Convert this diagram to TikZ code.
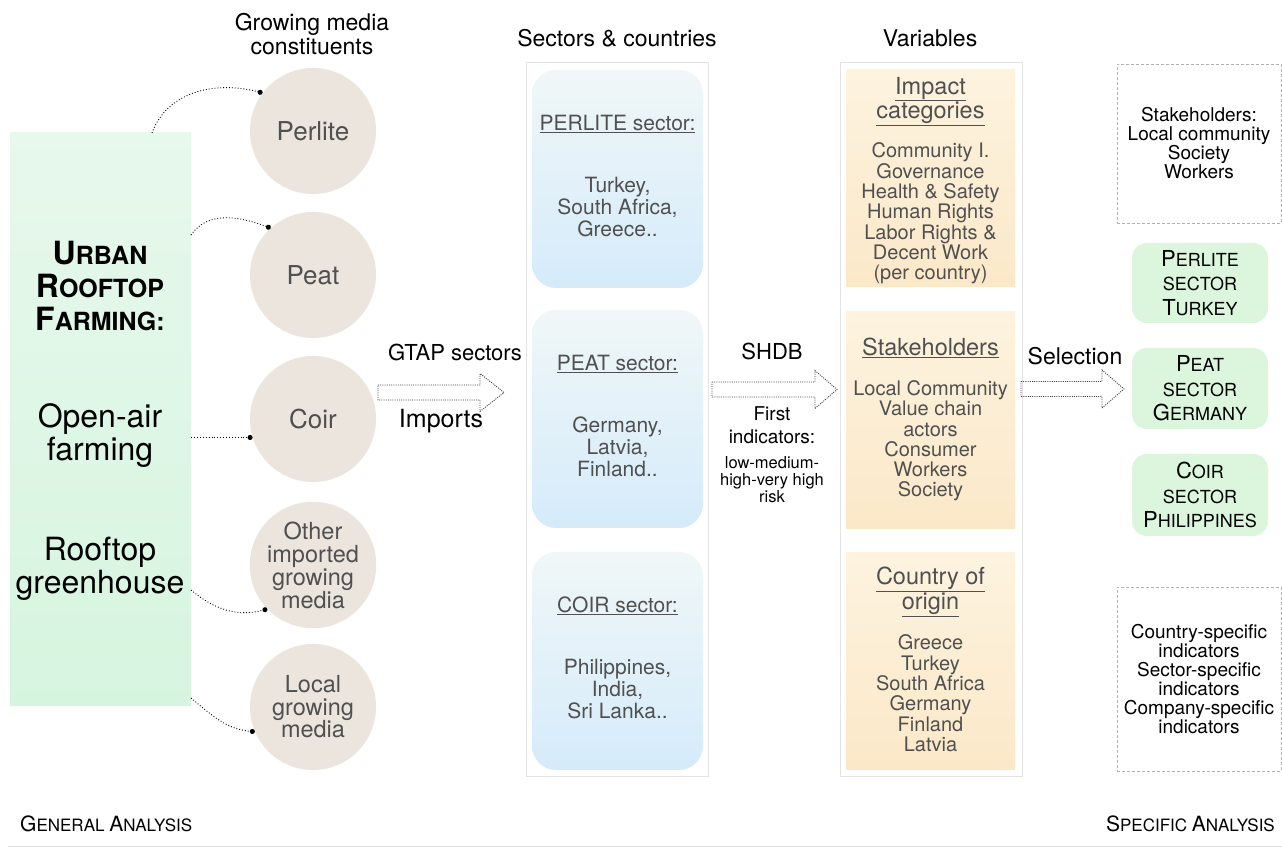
\documentclass[tikz,border=0pt]{standalone}
\usepackage{fontspec}
\setmainfont{TeX Gyre Heros}
\usetikzlibrary{positioning,arrows.meta}
\definecolor{mediafill}{RGB}{235,229,221}
\definecolor{farmtop}{RGB}{231,248,236}
\definecolor{farmbot}{RGB}{214,245,223}
\definecolor{sectop}{RGB}{240,247,248}
\definecolor{secbot}{RGB}{213,235,250}
\definecolor{vartop}{RGB}{253,243,223}
\definecolor{varbot}{RGB}{251,232,200}
\definecolor{pickfill}{RGB}{220,246,222}
\definecolor{txtgray}{RGB}{80,80,80}
\newcommand\fsz[2]{\fontsize{#1}{#2}\selectfont}
\newcommand\smcap[3]{{\fsz{#1}{#1}#2}#3}
\newcommand\fatarrow[3]{\draw[hollowarrow] (#1) ++(0,7.5) -- ++({#2-#3},0) -- ++(0,11.5) -- ++(#3,-19) -- ++(-#3,-19) -- ++(0,11.5) -- ++({#3-#2},0) -- cycle;}

\begin{document}
\begin{tikzpicture}[x=1pt,y=1pt,
  farmbox/.style={top color=farmtop, bottom color=farmbot, minimum width=181pt, minimum height=573pt, inner sep=0pt},
  mediadisc/.style={circle, fill=mediafill, minimum size=126pt, inner sep=0pt, text=txtgray, align=center},
  colframe/.style={draw=gray!22, line width=0.8pt, minimum width=182pt, minimum height=714pt},
  sectorbox/.style={rounded corners=24pt, top color=sectop, bottom color=secbot, minimum width=171pt, minimum height=218pt, inner sep=0pt},
  varbox/.style={top color=vartop, bottom color=varbot, minimum width=169pt, minimum height=217pt, inner sep=0pt},
  boxtext/.style={align=center, inner sep=0pt, text=txtgray, font=\fsz{21}{22}},
  headtext/.style={align=center, inner sep=0pt, text=txtgray, font=\fsz{23.5}{23}},
  listtext/.style={align=center, inner sep=0pt, text=txtgray, font=\fsz{20}{20.3}},
  pickbox/.style={rounded corners=15pt, fill=pickfill, minimum width=136pt, align=center, font=\fsz{18}{24.5}},
  dashbox/.style={draw=gray!60, densely dashed, line width=0.6pt, minimum width=164pt, align=center, font=\fsz{19}{19}},
  linkline/.style={dotted, line width=0.9pt, -{Circle[length=5pt]}},
  hollowarrow/.style={dash pattern=on 1pt off 1.2pt, line width=0.9pt, draw=black!75}]
\fill[white] (0,0) rectangle (1282,848);
\useasboundingbox (0,0) rectangle (1282,848);

% column headings
\node[align=center, font=\fsz{23}{24}] (growhead) at (312,814) {Growing media\\constituents};
\node[font=\fsz{23}{24}] (secthead) at (617,810) {Sectors \& countries};
\node[font=\fsz{23}{24}] (varhead) at (930,810) {Variables};

% urban rooftop farming
\node[farmbox] (urf) at (100.5,428.5) {};
\node[align=center, font=\fsz{25}{33}\bfseries] (urftitle) at (100,562) {\smcap{32}{U}{RBAN}\\\smcap{32}{R}{OOFTOP}\\\smcap{32}{F}{ARMING:}};
\node[align=center, font=\fsz{32}{33}] (openair) at (100,412) {Open-air\\farming};
\node[align=center, font=\fsz{32}{33}] (greenh) at (100,279) {Rooftop\\greenhouse};

% growing media
\node[mediadisc, font=\fsz{26}{26}] (perlite) at (313,717) {Perlite};
\node[mediadisc, font=\fsz{26}{26}] (peat) at (313,573) {Peat};
\node[mediadisc, font=\fsz{26}{26}] (coir) at (313,429) {Coir};
\node[mediadisc, font=\fsz{23.5}{23}] (other) at (313,283) {Other\\imported\\growing\\media};
\node[mediadisc, font=\fsz{23.5}{22.5}] (local) at (313,141) {Local\\growing\\media};

\coordinate (urftop) at (152,715);
\coordinate (urfpeat) at (191,613);
\coordinate (urfother) at (191,258);
\coordinate (urflocal) at (191,150);
\draw[linkline] (urftop) to[out=70,in=165] (perlite.143);
\draw[linkline] (urfpeat) to[out=55,in=160] (peat.132);
\draw[linkline] (urf.east |- coir.197) -- (coir.197);
\draw[linkline] (urfother) to[out=-40,in=195] (other.224);
\draw[linkline] (urflocal) to[out=-40,in=175] (local.203);

% GTAP arrow
\coordinate (gtapfrom) at (378,455.5);
\fatarrow{gtapfrom}{126}{24}
\node[font=\fsz{22}{22}] (gtaplbl) at (455,496) {GTAP sectors};
\node[font=\fsz{25}{25}] (implbl) at (441,427) {Imports};

% sectors & countries
\node[colframe] (sectcol) at (617,429) {};
\node[sectorbox] (perlbox) at (617.5,669) {};
\node[sectorbox] (peatbox) at (617.5,429) {};
\node[sectorbox] (coirbox) at (617.5,187) {};
\node[boxtext, below=45pt of perlbox.north] (perltxt) {\underline{PERLITE sector:}\\[40pt]Turkey,\\South Africa,\\Greece..};
\node[boxtext, below=45pt of peatbox.north] (peattxt) {\underline{PEAT sector:}\\[40pt]Germany,\\Latvia,\\Finland..};
\node[boxtext, below=45pt of coirbox.north] (coirtxt) {\underline{COIR sector:}\\[40pt]Philippines,\\India,\\Sri Lanka..};

% SHDB arrow
\coordinate (shdbfrom) at (712,458.5);
\fatarrow{shdbfrom}{125}{22}
\node[font=\fsz{22}{22}] (shdblbl) at (772,497) {SHDB};
\node[align=center, font=\fsz{19}{23}] (firstlbl) at (772,422.5) {First\\indicators:};
\node[align=center, font=\fsz{16.5}{17}] (risklbl) at (772,368.5) {low-medium-\\high-very high\\risk};

% variables
\node[colframe] (varcol) at (931,429) {};
\node[varbox] (impbox) at (930.5,669.5) {};
\node[varbox] (stakebox) at (930.5,428) {};
\node[varbox] (origbox) at (930.5,186.5) {};
\node[headtext, below=7pt of impbox.north] (imphead) {\underline{Impact}\\\underline{categories}};
\node[listtext, below=73pt of impbox.north] (implist) {Community I.\\Governance\\Health \& Safety\\Human Rights\\Labor Rights \&\\Decent Work\\(per country)};
\node[headtext, below=26pt of stakebox.north] (stakehead) {\underline{Stakeholders}};
\node[listtext, below=69pt of stakebox.north] (stakelist) {Local Community\\Value chain\\actors\\Consumer\\Workers\\Society};
\node[headtext, below=14pt of origbox.north] (orighead) {\underline{Country of}\\\underline{origin}};
\node[listtext, below=82pt of origbox.north] (origlist) {Greece\\Turkey\\South Africa\\Germany\\Finland\\Latvia};

% selection arrow
\coordinate (selfrom) at (1021,459);
\fatarrow{selfrom}{103}{22}
\node[font=\fsz{23}{23}] (sellbl) at (1075,492) {Selection};

% specific analysis
\node[dashbox, minimum height=159pt] (stakesel) at (1199,704.5) {Stakeholders:\\Local community\\Society\\Workers};
\node[pickbox, minimum height=80pt] (perlpick) at (1200,565) {\smcap{22}{P}{ERLITE}\\SECTOR\\\smcap{22}{T}{URKEY}};
\node[pickbox, minimum height=81pt] (peatpick) at (1200,459.5) {\smcap{22}{P}{EAT}\\SECTOR\\\smcap{22}{G}{ERMANY}};
\node[pickbox, minimum height=82pt] (coirpick) at (1200,353) {\smcap{22}{C}{OIR}\\SECTOR\\\smcap{22}{P}{HILIPPINES}};
\node[dashbox, minimum height=184pt] (indsel) at (1199,169) {Country-specific\\indicators\\Sector-specific\\indicators\\Company-specific\\indicators};

% bottom
\node[anchor=west, inner sep=0pt, font=\fsz{17}{17}] (genlbl) at (20,24) {\smcap{21}{G}{ENERAL} \smcap{21}{A}{NALYSIS}};
\node[anchor=east, inner sep=0pt, font=\fsz{17}{17}] (speclbl) at (1275,24) {\smcap{21}{S}{PECIFIC} \smcap{21}{A}{NALYSIS}};
\draw[gray!22, line width=0.8pt] (8,2) -- (1282,2);
\end{tikzpicture}
\end{document}
